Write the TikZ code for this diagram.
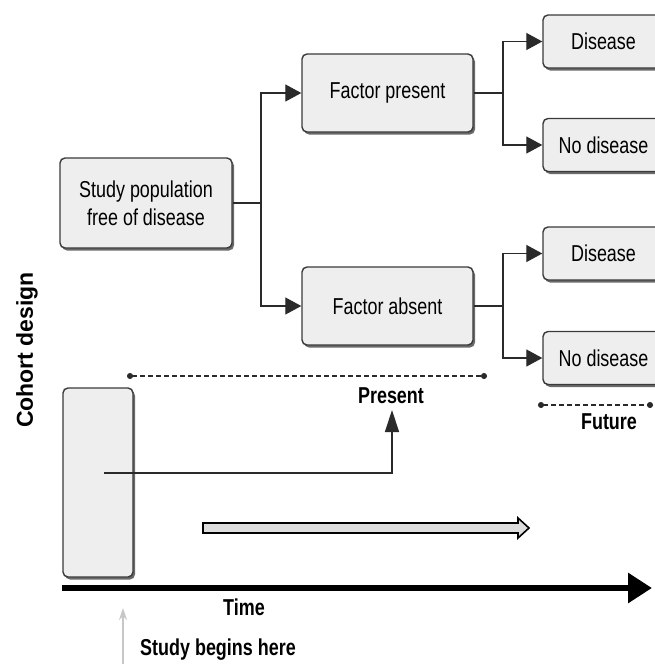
\documentclass[tikz,border=0pt]{standalone}
\usepackage{fontspec}
\setmainfont{Liberation Sans}[FakeStretch=0.78]
\newfontfamily\cohortfont{Liberation Sans}
\usetikzlibrary{arrows.meta,shadows}
\definecolor{boxfill}{HTML}{EEEEEE}
\definecolor{boxline}{HTML}{3A3A3A}
\definecolor{shadowc}{HTML}{6A6A6A}
\definecolor{linec}{HTML}{2A2A2A}
\tikzset{
  box/.style={draw=boxline, line width=1.4pt, fill=boxfill, rounded corners=5pt,
    drop shadow={shadow xshift=2pt, shadow yshift=-2.5pt, fill=shadowc, opacity=1},
    font=\fontsize{23}{28}\selectfont, align=center, inner sep=0pt},
  conn/.style={draw=linec, line width=1.3pt},
  arr/.style={conn, -{Triangle[length=16pt,width=17pt]}},
  uparr/.style={conn, -{Triangle[length=22pt,width=14pt]}},
  dashline/.style={draw=linec, line width=1.3pt, dash pattern=on 5pt off 3pt,
    {Circle[length=6pt]}-{Circle[length=6pt]}},
  lbl/.style={font=\bfseries\fontsize{23}{27}\selectfont, inner sep=0pt},
}
\begin{document}
\begin{tikzpicture}[x=1pt,y=-1pt]
\useasboundingbox (0,0) rectangle (655,664);
\clip (0,0) rectangle (655,664);
% boxes
\node[box, minimum width=172pt, minimum height=90pt] (study) at (146,203) {Study population\\free of disease};
\node[box, minimum width=171pt, minimum height=78pt] (fp) at (387.5,93) {Factor present};
\node[box, minimum width=171pt, minimum height=78pt] (fa) at (387.5,306) {Factor absent};
\node[box, minimum width=121pt, minimum height=53pt] (d1) at (603.5,41.5) {Disease};
\node[box, minimum width=121pt, minimum height=53pt] (n1) at (603.5,145) {No disease};
\node[box, minimum width=121pt, minimum height=53pt] (d2) at (603.5,253.5) {Disease};
\node[box, minimum width=121pt, minimum height=53pt] (n2) at (603.5,358) {No disease};
\node[box, minimum width=70pt, minimum height=189pt] (tall) at (98,482.5) {};
% connectors
\draw[conn] (study.east) -- (261,203) coordinate (j1);
\draw[arr] (j1) |- (fp.west);
\draw[arr] (j1) |- (fa.west);
\draw[conn] (fp.east) -- (503,93) coordinate (j2);
\draw[arr] (j2) |- (d1.west);
\draw[arr] (j2) |- (n1.west);
\draw[conn] (fa.east) -- (503,306) coordinate (j3);
\draw[arr] (j3) |- (d2.west);
\draw[arr] (j3) |- (n2.west);
% labels
\node[lbl] (present) at (391,396) {Present};
\node[lbl] (future) at (609,422) {Future};
\node[lbl] (time) at (244,607) {Time};
\node[lbl] (begins) at (218,650) {Study begins here};
\node[font=\cohortfont\bfseries\fontsize{23}{27}\selectfont, rotate=90, inner sep=0pt] (cohort) at (27,350) {Cohort design};
% dashed spans
\coordinate (p0) at (127,376);
\coordinate (p1) at (487,376);
\draw[dashline] (p0) -- (p1);
\coordinate (f0) at (538,405);
\coordinate (f1) at (653,405);
\draw[dashline] (f0) -- (f1);
% arrow from tall box up to Present
\coordinate (s0) at (104,473);
\coordinate (s1) at (392,410);
\draw[uparr] (s0) -| (s1);
% hollow arrow
\draw[draw=black, line width=1.6pt, fill=boxfill!85!gray, line join=miter]
  (203,523) -- (518,523) -- (518,518) -- (529,528) -- (518,538) -- (518,533) -- (203,533) -- cycle;
% time axis
\coordinate (t0) at (62,588);
\coordinate (t1) at (652,588);
\draw[black, line width=6.5pt, -{Triangle[length=24pt,width=29pt]}] (t0) -- (t1);
% study begins arrow
\coordinate (g0) at (123,664);
\coordinate (g1) at (123,608);
\draw[black!22, line width=1.2pt, -{Stealth[length=12pt,width=8pt]}] (g0) -- (g1);
\end{tikzpicture}
\end{document}
